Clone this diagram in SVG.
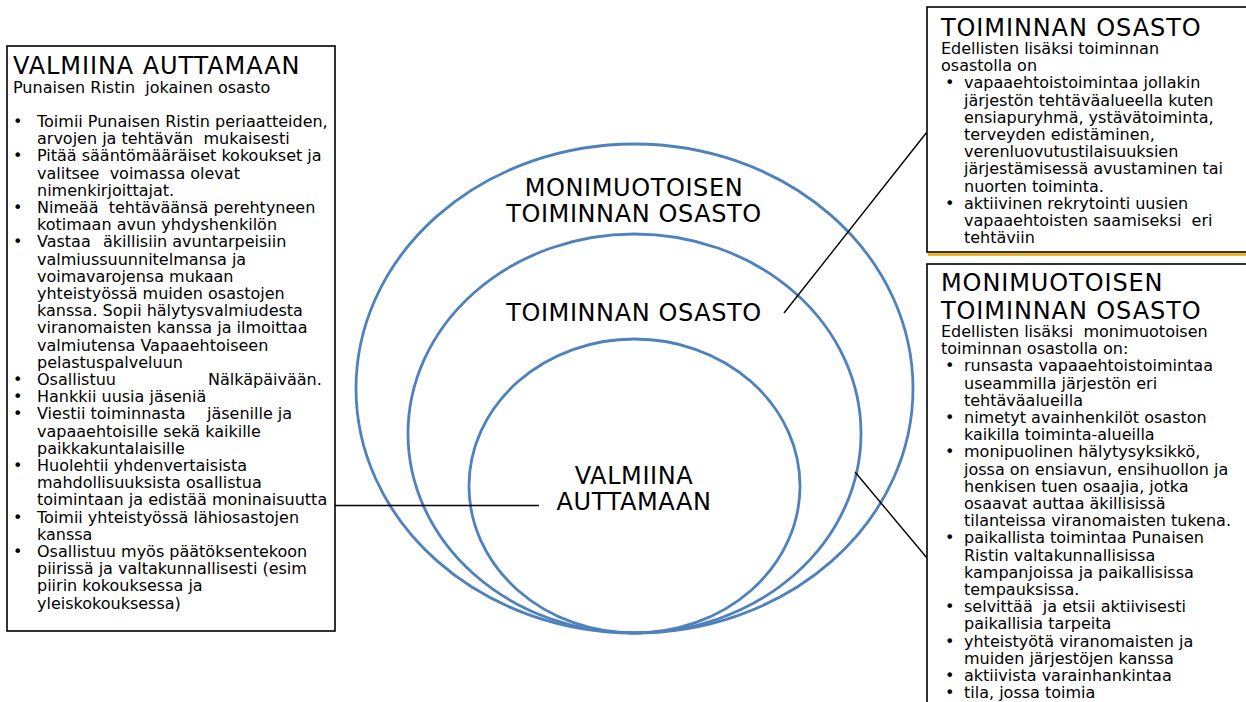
<svg xmlns="http://www.w3.org/2000/svg" width="1246" height="702" viewBox="0 0 1246 702">
<style>
text{font-family:"DejaVu Sans",Verdana,sans-serif;fill:#000;white-space:pre}
.h{font-size:24px;letter-spacing:0.6px}
.ht{font-size:24px;letter-spacing:0.9px}
.b{font-size:16px}
.box{fill:#fff;stroke:#000;stroke-width:1.6}
.ring{fill:none;stroke:#4F81BD;stroke-width:2.8}
.con{stroke:#000;stroke-width:1.4;fill:none}
.c{text-anchor:middle}
</style>
<rect width="1246" height="702" fill="#fff"/>
<g id="rings">
<ellipse id="ring-outer" class="ring" cx="634.5" cy="388.5" rx="278.5" ry="244.5"/>
<ellipse id="ring-middle" class="ring" cx="634.5" cy="433.5" rx="226.5" ry="199.5"/>
<ellipse id="ring-inner" class="ring" cx="634.5" cy="486" rx="165.5" ry="147"/>
<text class="h c" x="634" y="196">MONIMUOTOISEN</text>
<text class="h c" x="634" y="222">TOIMINNAN OSASTO</text>
<text class="h c" x="634" y="321">TOIMINNAN OSASTO</text>
<text class="h c" x="634" y="484">VALMIINA</text>
<text class="h c" x="634" y="510">AUTTAMAAN</text>
</g>
<g id="connectors">
<line class="con" x1="335" y1="505.5" x2="539" y2="505.5"/>
<line class="con" x1="784" y1="313" x2="927" y2="132"/>
<line class="con" x1="855" y1="472" x2="927" y2="558"/>
</g>
<g id="box-valmiina">
<rect class="box" x="7" y="46" width="328" height="585"/>
<text class="ht" x="13" y="74">VALMIINA AUTTAMAAN</text>
<text class="b" x="13" y="93" xml:space="preserve">Punaisen Ristin  jokainen osasto</text>
<g class="b">
<text x="13" y="127">•</text><text x="37" y="127">Toimii Punaisen Ristin periaatteiden,</text>
<text x="37" y="144.2" xml:space="preserve">arvojen ja tehtävän  mukaisesti</text>
<text x="13" y="161.4">•</text><text x="37" y="161.4">Pitää sääntömääräiset kokoukset ja</text>
<text x="37" y="178.6" xml:space="preserve">valitsee  voimassa olevat</text>
<text x="37" y="195.8">nimenkirjoittajat.</text>
<text x="13" y="213">•</text><text x="37" y="213" xml:space="preserve">Nimeää  tehtäväänsä perehtyneen</text>
<text x="37" y="230.2">kotimaan avun yhdyshenkilön</text>
<text x="13" y="247.4">•</text><text x="37" y="247.4">Vastaa</text><text x="103" y="247.4">äkillisiin avuntarpeisiin</text>
<text x="37" y="264.6">valmiussuunnitelmansa ja</text>
<text x="37" y="281.8">voimavarojensa mukaan</text>
<text x="37" y="299">yhteistyössä muiden osastojen</text>
<text x="37" y="316.2">kanssa. Sopii hälytysvalmiudesta</text>
<text x="37" y="333.4">viranomaisten kanssa ja ilmoittaa</text>
<text x="37" y="350.6">valmiutensa Vapaaehtoiseen</text>
<text x="37" y="367.8">pelastuspalveluun</text>
<text x="13" y="385">•</text><text x="37" y="385">Osallistuu</text><text x="208" y="385">Nälkäpäivään.</text>
<text x="13" y="402.2">•</text><text x="37" y="402.2">Hankkii uusia jäseniä</text>
<text x="13" y="419.4">•</text><text x="37" y="419.4">Viestii toiminnasta</text><text x="207" y="419.4">jäsenille ja</text>
<text x="37" y="436.6">vapaaehtoisille sekä kaikille</text>
<text x="37" y="453.8">paikkakuntalaisille</text>
<text x="13" y="471">•</text><text x="37" y="471">Huolehtii yhdenvertaisista</text>
<text x="37" y="488.2">mahdollisuuksista osallistua</text>
<text x="37" y="505.4">toimintaan ja edistää moninaisuutta</text>
<text x="13" y="522.6">•</text><text x="37" y="522.6">Toimii yhteistyössä lähiosastojen</text>
<text x="37" y="539.8">kanssa</text>
<text x="13" y="557">•</text><text x="37" y="557">Osallistuu myös päätöksentekoon</text>
<text x="37" y="574.2">piirissä ja valtakunnallisesti (esim</text>
<text x="37" y="591.4">piirin kokouksessa ja</text>
<text x="37" y="608.6">yleiskokouksessa)</text>
</g>
</g>
<g id="box-toiminnan">
<rect class="box" x="927" y="7" width="340" height="245"/>
<line x1="928" y1="254.5" x2="1246" y2="254.5" stroke="#E8A800" stroke-width="2.5"/>
<text class="ht" x="941" y="36">TOIMINNAN OSASTO</text>
<g class="b">
<text x="941" y="54">Edellisten lisäksi toiminnan</text>
<text x="941" y="71.2">osastolla on</text>
<text x="945" y="88.4">•</text><text x="964" y="88.4">vapaaehtoistoimintaa jollakin</text>
<text x="964" y="105.6">järjestön tehtäväalueella kuten</text>
<text x="964" y="122.8">ensiapuryhmä, ystävätoiminta,</text>
<text x="964" y="140">terveyden edistäminen,</text>
<text x="964" y="157.2">verenluovutustilaisuuksien</text>
<text x="964" y="174.4">järjestämisessä avustaminen tai</text>
<text x="964" y="191.6">nuorten toiminta.</text>
<text x="945" y="208.8">•</text><text x="964" y="208.8">aktiivinen rekrytointi uusien</text>
<text x="964" y="226" xml:space="preserve">vapaaehtoisten saamiseksi  eri</text>
<text x="964" y="243.2">tehtäviin</text>
</g>
</g>
<g id="box-monimuotoisen">
<rect class="box" x="927" y="264" width="340" height="460"/>
<text class="ht" x="941" y="291">MONIMUOTOISEN</text>
<text class="ht" x="941" y="319">TOIMINNAN OSASTO</text>
<g class="b">
<text x="941" y="337" xml:space="preserve">Edellisten lisäksi  monimuotoisen</text>
<text x="941" y="354.2">toiminnan osastolla on:</text>
<text x="945" y="371.4">•</text><text x="964" y="371.4">runsasta vapaaehtoistoimintaa</text>
<text x="964" y="388.6">useammilla järjestön eri</text>
<text x="964" y="405.8">tehtäväalueilla</text>
<text x="945" y="423">•</text><text x="964" y="423">nimetyt avainhenkilöt osaston</text>
<text x="964" y="440.2">kaikilla toiminta-alueilla</text>
<text x="945" y="457.4">•</text><text x="964" y="457.4">monipuolinen hälytysyksikkö,</text>
<text x="964" y="474.6">jossa on ensiavun, ensihuollon ja</text>
<text x="964" y="491.8">henkisen tuen osaajia, jotka</text>
<text x="964" y="509">osaavat auttaa äkillisissä</text>
<text x="964" y="526.2">tilanteissa viranomaisten tukena.</text>
<text x="945" y="543.4">•</text><text x="964" y="543.4">paikallista toimintaa Punaisen</text>
<text x="964" y="560.6">Ristin valtakunnallisissa</text>
<text x="964" y="577.8">kampanjoissa ja paikallisissa</text>
<text x="964" y="595">tempauksissa.</text>
<text x="945" y="612.2">•</text><text x="964" y="612.2" xml:space="preserve">selvittää  ja etsii aktiivisesti</text>
<text x="964" y="629.4">paikallisia tarpeita</text>
<text x="945" y="646.6">•</text><text x="964" y="646.6">yhteistyötä viranomaisten ja</text>
<text x="964" y="663.8">muiden järjestöjen kanssa</text>
<text x="945" y="681">•</text><text x="964" y="681">aktiivista varainhankintaa</text>
<text x="945" y="698.2">•</text><text x="964" y="698.2">tila, jossa toimia</text>
</g>
</g>
</svg>
